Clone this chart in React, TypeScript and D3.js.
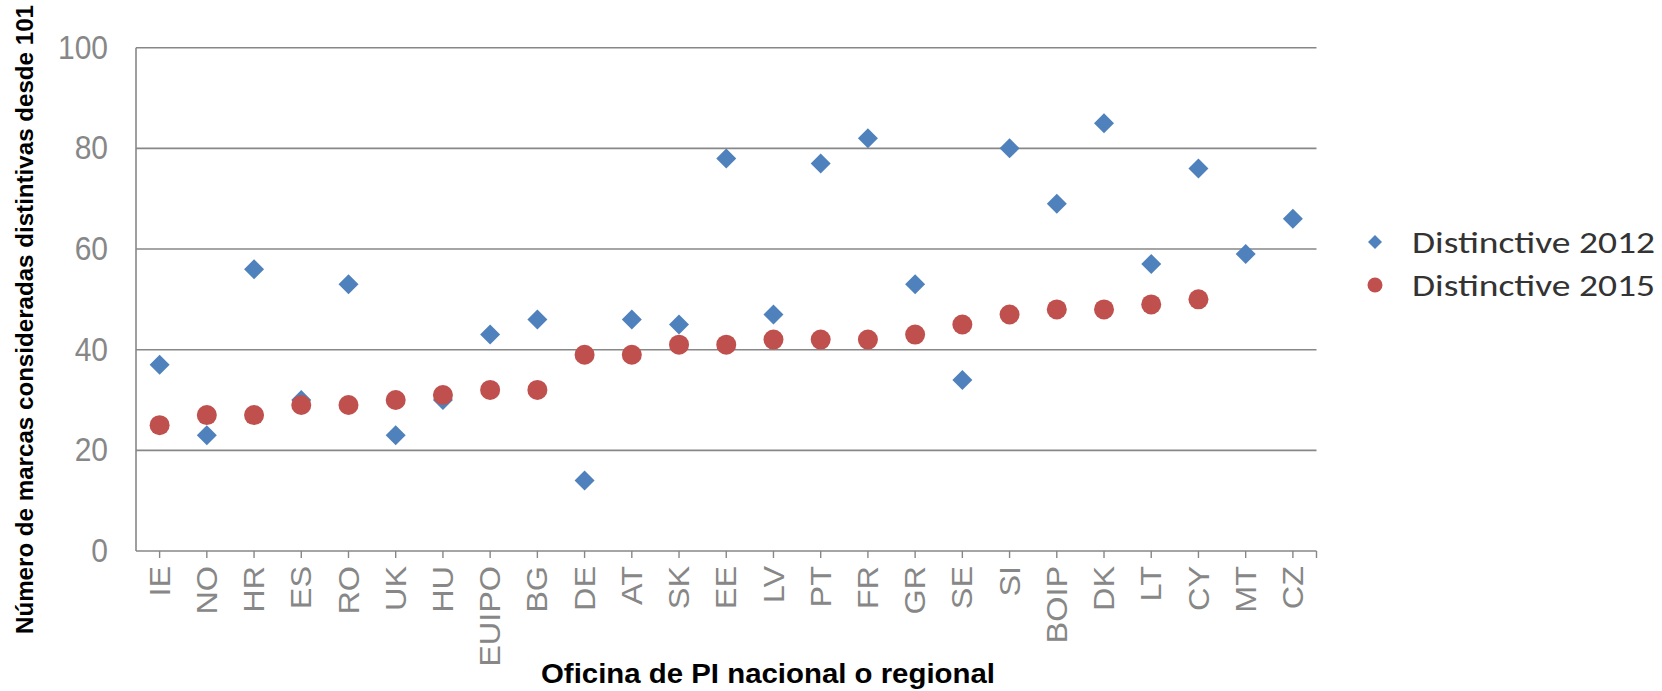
import React from "react";
import * as d3 from "d3";

const categories = ["IE","NO","HR","ES","RO","UK","HU","EUIPO","BG","DE","AT","SK","EE","LV","PT","FR","GR","SE","SI","BOIP","DK","LT","CY","MT","CZ"];
const distinctive2012 = [37,23,56,30,53,23,30,43,46,14,46,45,78,47,77,82,53,34,80,69,85,57,76,59,66];
const distinctive2015: (number | null)[] = [25,27,27,29,29,30,31,32,32,39,39,41,41,42,42,42,43,45,47,48,48,49,50,null,null];
const yTicks = [0,20,40,60,80,100];
const seriesNames = ["Distinctive 2012","Distinctive 2015"];
const yTitle = "Número de marcas consideradas distintivas desde 101";
const xTitle = "Oficina de PI nacional o regional";

const W = 1662, H = 691;
const left = 136, right = 1316.5, top = 47.7, bottom = 551;
const BLUE = "#4f81bd", RED = "#c0504d", GRID = "#878787", TXT = "#878787";

export default function App() {
  const x = d3.scaleBand<string>().domain(categories).range([left, right]).padding(0);
  const y = d3.scaleLinear().domain([0, 100]).range([bottom, top]);
  const cx = (c: string) => (x(c) as number) + x.bandwidth() / 2;
  const diamond = (px: number, py: number, r: number) =>
    `M${px},${py - r}L${px + r},${py}L${px},${py + r}L${px - r},${py}Z`;
  const font = "'Liberation Sans', Arial, sans-serif";

  return (
    <svg width={W} height={H} style={{ position: "absolute", left: 0, top: 0, background: "#fff" }}>
      {/* gridlines */}
      {yTicks.filter(t => t > 0).map(t => (
        <line key={t} x1={left} x2={right} y1={y(t)} y2={y(t)} stroke={GRID} strokeWidth={1.6} />
      ))}
      {/* axes */}
      <line x1={left} x2={left} y1={top} y2={bottom} stroke={GRID} strokeWidth={1.6} />
      <line x1={left} x2={right} y1={bottom} y2={bottom} stroke={GRID} strokeWidth={1.6} />
      {categories.map(c => (
        <line key={"t" + c} x1={cx(c)} x2={cx(c)} y1={bottom} y2={bottom + 7} stroke={GRID} strokeWidth={1.4} />
      ))}
      <line x1={right} x2={right} y1={bottom} y2={bottom + 7} stroke={GRID} strokeWidth={1.4} />
      {/* y tick labels */}
      {yTicks.map(t => (
        <text key={"y" + t} transform={`translate(108,${y(t)}) scale(1,1.08)`} textAnchor="end" dominantBaseline="central"
          fontFamily={font} fontSize={30} fill={TXT}>{t}</text>
      ))}
      {/* x tick labels */}
      {categories.map(c => (
        <text key={"x" + c} transform={`translate(${cx(c)},566) rotate(-90) scale(1.08,1)`} textAnchor="end"
          dominantBaseline="central" fontFamily={font} fontSize={30} fill={TXT}>{c}</text>
      ))}
      {/* series 2012 */}
      {categories.map((c, i) => (
        <path key={"d" + c} d={diamond(cx(c), y(distinctive2012[i]), 10)} fill={BLUE} />
      ))}
      {/* series 2015 */}
      {categories.map((c, i) => {
        const v = distinctive2015[i];
        return v == null ? null : <circle key={"c" + c} cx={cx(c)} cy={y(v)} r={10} fill={RED} />;
      })}
      {/* axis titles */}
      <text x={768} y={683} textAnchor="middle" fontFamily={font} fontWeight="bold" fontSize={27.5}
        fill="#000" textLength={454} lengthAdjust="spacingAndGlyphs">{xTitle}</text>
      <text transform={`translate(33,319.5) rotate(-90)`} textAnchor="middle" fontFamily={font}
        fontWeight="bold" fontSize={23} fill="#000" textLength={629} lengthAdjust="spacingAndGlyphs">{yTitle}</text>
      {/* legend */}
      <path d={diamond(1375, 242, 7)} fill={BLUE} />
      <text x={1412} y={242} dominantBaseline="central" fontFamily="Carlito, Calibri, Lato, sans-serif"
        fontSize={30} fill="#333" textLength={243} lengthAdjust="spacingAndGlyphs">{seriesNames[0]}</text>
      <circle cx={1375} cy={285} r={7.5} fill={RED} />
      <text x={1412} y={285} dominantBaseline="central" fontFamily="Carlito, Calibri, Lato, sans-serif"
        fontSize={30} fill="#333" textLength={243} lengthAdjust="spacingAndGlyphs">{seriesNames[1]}</text>
    </svg>
  );
}
